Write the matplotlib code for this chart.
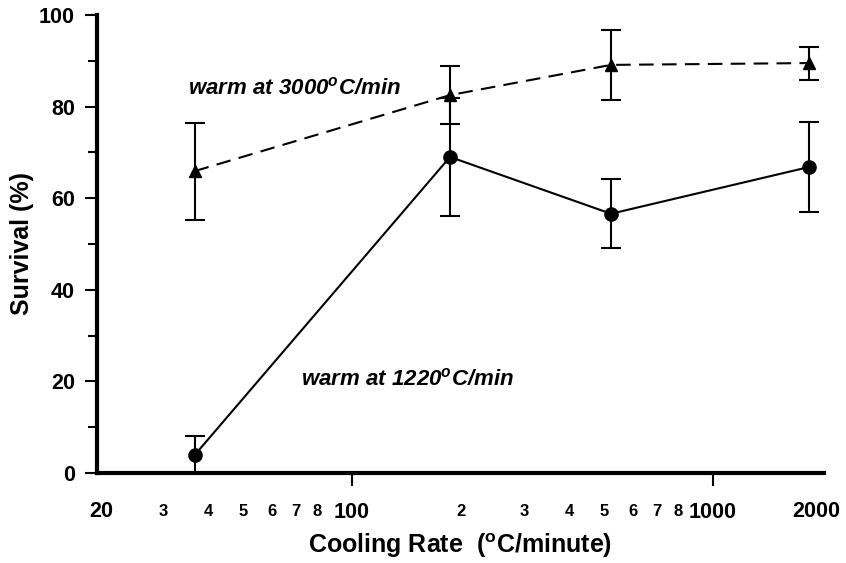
import numpy as np
import matplotlib
matplotlib.use('Agg')
import matplotlib.pyplot as plt
import matplotlib.transforms as mtransforms
from matplotlib.ticker import FixedLocator, FixedFormatter

plt.rcParams['font.family'] = ['Liberation Sans', 'DejaVu Sans']
plt.rcParams['font.weight'] = 'bold'
plt.rcParams['mathtext.fontset'] = 'custom'
plt.rcParams['mathtext.rm'] = 'Liberation Sans:bold'
plt.rcParams['mathtext.it'] = 'Liberation Sans:bold:italic'
plt.rcParams['mathtext.bf'] = 'Liberation Sans:bold'

# datos
rate_warm3000 = [36.7, 187, 522, 1845]
surv_warm3000 = [65.9, 82.5, 89.1, 89.5]
err_warm3000 = [10.6, 6.3, 7.7, 3.6]

rate_warm1220 = [36.7, 187, 522, 1845]
surv_warm1220 = [3.9, 69.0, 56.6, 66.8]
err_warm1220 = [4.1, 12.9, 7.5, 9.9]

major_ticks = [100, 1000]
major_labels = ['100', '1000']
minor_ticks = [20, 30, 40, 50, 60, 70, 80, 200, 300, 400, 500, 600, 700, 800, 2000]
minor_labels = ['20', '3', '4', '5', '6', '7', '8', '2', '3', '4', '5', '6', '7', '8', '2000']

big = 15.5
fig = plt.figure(figsize=(8.46, 5.63), dpi=100)
ax = fig.add_axes([0.1147, 0.1599, 0.974 - 0.1147, 0.9734 - 0.1599])

# curva con calentamiento a 3000 C/min (discontinua, triangulos)
ax.errorbar(rate_warm3000, surv_warm3000, yerr=err_warm3000, color='black',
            lw=1.5, ls=(0, (7, 4)), marker='^', ms=8, capsize=7, capthick=1.5,
            elinewidth=1.5)
# curva con calentamiento a 1220 C/min (continua, circulos)
ax.errorbar(rate_warm1220, surv_warm1220, yerr=err_warm1220, color='black',
            lw=1.5, ls='-', marker='o', ms=9.5, capsize=7, capthick=1.5,
            elinewidth=1.5)

ax.set_xscale('log')
ax.set_xlim(19.7, 2030)
ax.set_ylim(0, 100)

for s in ['top', 'right']:
    ax.spines[s].set_visible(False)
for s in ['left', 'bottom']:
    ax.spines[s].set_linewidth(3)

ax.set_yticks([0, 20, 40, 60, 80, 100])
ax.set_yticks([10, 30, 50, 70, 90], minor=True)
ax.tick_params(axis='y', which='major', direction='out', length=9, width=1.5,
               labelsize=big, pad=7)
ax.tick_params(axis='y', which='minor', direction='out', length=6.5, width=1.5)

ax.xaxis.set_major_locator(FixedLocator(major_ticks))
ax.xaxis.set_major_formatter(FixedFormatter(major_labels))
ax.xaxis.set_minor_locator(FixedLocator(minor_ticks))
ax.xaxis.set_minor_formatter(FixedFormatter(minor_labels))
ax.tick_params(axis='x', which='major', direction='out', length=9, width=1.5,
               labelsize=big, pad=12)
ax.tick_params(axis='x', which='minor', length=0, labelsize=12, pad=22)

fig.canvas.draw()
for t in ax.xaxis.get_minor_ticks():
    txt = t.label1.get_text()
    if txt in ('20', '2000'):
        t.label1.set_fontsize(big)
        t.set_pad(20)
        dx = 2 if txt == '20' else -5
        t.label1.set_transform(t.label1.get_transform() +
                               mtransforms.ScaledTranslation(dx / 100, 0, fig.dpi_scale_trans))

ax.set_ylabel('Survival (%)', fontsize=18, fontweight='bold', va='center')
ax.yaxis.set_label_coords(-0.103, 0.502)
ax.set_xlabel(r'Cooling Rate  ($^{\mathrm{o}}$C/minute)', fontsize=18,
              fontweight='bold', labelpad=6)

ax.text(0.125, 0.84, r'warm at 3000$^{o}$C/min', transform=ax.transAxes,
        fontsize=16, fontweight='bold', fontstyle='italic', va='center')
ax.text(0.28, 0.205, r'warm at 1220$^{o}$C/min', transform=ax.transAxes,
        fontsize=16, fontweight='bold', fontstyle='italic', va='center')

fig.savefig('out.png', dpi=100)
